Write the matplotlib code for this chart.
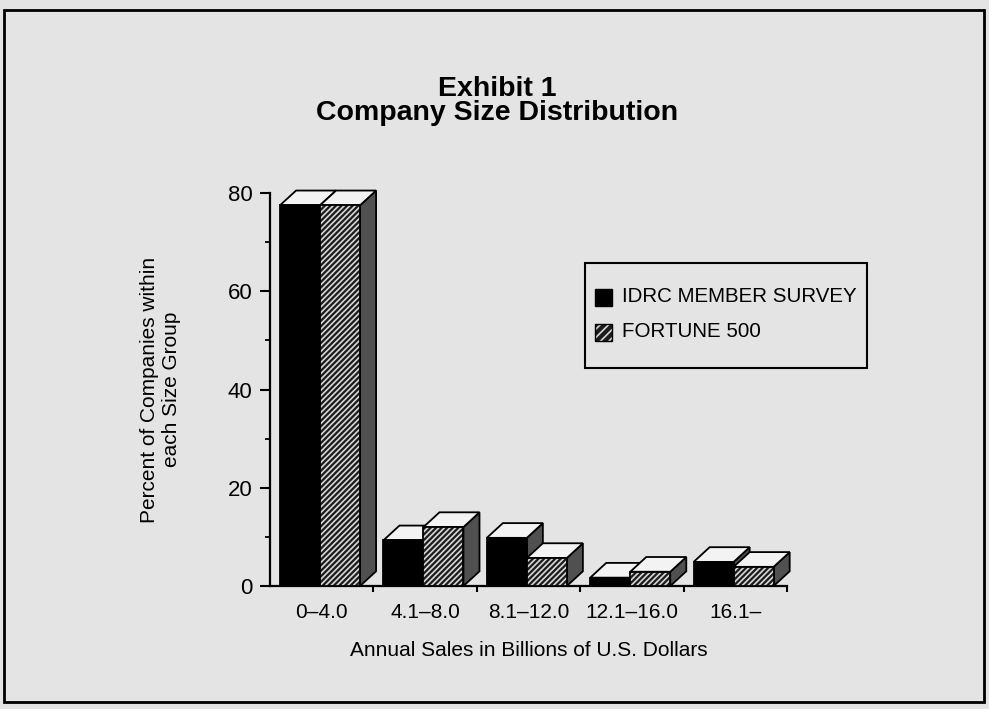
import matplotlib
matplotlib.use('Agg')
import matplotlib.pyplot as plt
from matplotlib.patches import Polygon, Rectangle

plt.rcParams['font.family'] = ['Liberation Sans', 'DejaVu Sans']
plt.rcParams['hatch.linewidth'] = 1.2

# data read from the exhibit
categories = ['0\u20134.0', '4.1\u20138.0', '8.1\u201312.0', '12.1\u201316.0', '16.1\u2013']
idrc = [77.5, 9.3, 9.8, 1.7, 4.9]
fortune = [77.5, 12.0, 5.7, 2.9, 3.9]
series_names = ['IDRC MEMBER SURVEY', 'FORTUNE 500']

paper = '#e4e4e4'
top_col = '#f3f3f3'
side_col = '#505050'

fig = plt.figure(figsize=(9.89, 7.09), dpi=100, facecolor=paper)
ax = fig.add_axes([270/989, 1-586/709, 517/989, 393/709])
ax.set_facecolor('none')

DX, DY = 0.155, 3.0    # depth of the fake 3d boxes (data units)
W = 0.387
OFF = 0.097


def box(x0, h, kind):
    # side and top first, front last
    side = [(x0+W, 0), (x0+W+DX, DY), (x0+W+DX, h+DY), (x0+W, h)]
    top = [(x0, h), (x0+W, h), (x0+W+DX, h+DY), (x0+DX, h+DY)]
    ax.add_patch(Polygon(side, closed=True, facecolor=side_col, edgecolor='black',
                         lw=1.3, clip_on=False, zorder=3))
    ax.add_patch(Polygon(top, closed=True, facecolor=top_col, edgecolor='black',
                         lw=1.3, clip_on=False, zorder=3))
    if kind == 'idrc':
        ax.add_patch(Rectangle((x0, 0), W, h, facecolor='black', edgecolor='black',
                               lw=1.3, clip_on=False, zorder=3))
    else:
        ax.add_patch(Rectangle((x0, 0), W, h, facecolor='#1c1c1c', edgecolor='#d8d8d8',
                               lw=0, hatch='//////', clip_on=False, zorder=3))
        ax.add_patch(Rectangle((x0, 0), W, h, fill=False, edgecolor='black',
                               lw=1.3, clip_on=False, zorder=3))


for i in range(len(categories)):
    box(i + OFF, idrc[i], 'idrc')
    box(i + OFF + W, fortune[i], 'fortune')

n = len(categories)
ax.set_xlim(0, n)
ax.set_ylim(0, 80)
for s in ['top', 'right']:
    ax.spines[s].set_visible(False)
for s in ['left', 'bottom']:
    ax.spines[s].set_linewidth(1.6)

ax.set_yticks([0, 20, 40, 60, 80])
ax.set_yticks([10, 30, 50, 70], minor=True)
ax.tick_params(axis='y', which='major', length=7.5, width=1.5, pad=5, labelsize=16)
ax.tick_params(axis='y', which='minor', length=3.5, width=1.3)

ax.set_xticks(range(1, n+1))
ax.set_xticklabels([])
ax.set_xticks([i + 0.5 for i in range(n)], minor=True)
ax.set_xticklabels(categories, minor=True)
ax.tick_params(axis='x', which='major', length=4, width=1.5)
ax.tick_params(axis='x', which='minor', length=0, pad=12, labelsize=15)

ax.set_xlabel('Annual Sales in Billions of U.S. Dollars', fontsize=15, labelpad=14)
ax.set_ylabel('Percent of Companies within\neach Size Group', fontsize=15, labelpad=34)

fig.text(497/989, 1-89/709, 'Exhibit 1', ha='center', va='center',
         fontsize=20.5, fontweight='bold')
fig.text(497/989, 1-113/709, 'Company Size Distribution', ha='center', va='center',
         fontsize=20.5, fontweight='bold')

# legend box drawn by hand to match the exhibit
fig.add_artist(Rectangle((585/989, 1-368/709), 282/989, 105/709, transform=fig.transFigure,
                         facecolor='none', edgecolor='black', lw=1.5))
fig.add_artist(Rectangle((595/989, 1-306/709), 17/989, 17/709, transform=fig.transFigure,
                         facecolor='black', edgecolor='black', lw=1))
fig.add_artist(Rectangle((595/989, 1-341/709), 17/989, 17/709, transform=fig.transFigure,
                         facecolor='#1c1c1c', edgecolor='#d8d8d8', hatch='////', lw=0))
fig.add_artist(Rectangle((595/989, 1-341/709), 17/989, 17/709, transform=fig.transFigure,
                         fill=False, edgecolor='black', lw=1))
fig.text(622/989, 1-297/709, series_names[0], ha='left', va='center', fontsize=14.8)
fig.text(622/989, 1-332/709, series_names[1], ha='left', va='center', fontsize=14.8)

# page frame
fig.add_artist(Rectangle((4/989, 1-702/709), 980/989, 692/709, transform=fig.transFigure,
                         facecolor='none', edgecolor='black', lw=2))

fig.savefig('out.png', dpi=100, facecolor=paper)
